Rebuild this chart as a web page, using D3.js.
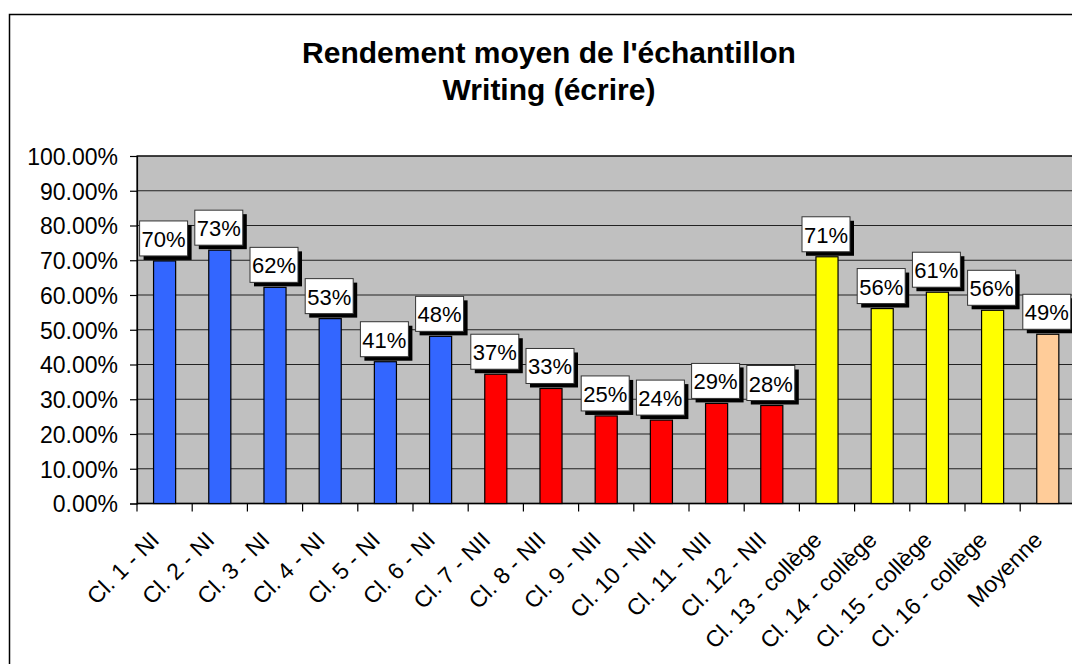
<!doctype html>
<head>
  <meta charset="utf-8">
  <script src="https://cdn.jsdelivr.net/npm/d3@7"></script>
</head>

<style type="text/css">
  body { margin: 0; background: #fff; }
  text { font-family: Arial, 'Liberation Sans', Helvetica, sans-serif; fill: #000; }
</style>

<body>
<svg width="1072" height="664"></svg>
<script>
// data
var categories = ["Cl. 1 - NI", "Cl. 2 - NI", "Cl. 3 - NI", "Cl. 4 - NI", "Cl. 5 - NI", "Cl. 6 - NI",
  "Cl. 7 - NII", "Cl. 8 - NII", "Cl. 9 - NII", "Cl. 10 - NII", "Cl. 11 - NII", "Cl. 12 - NII",
  "Cl. 13 - collège", "Cl. 14 - collège", "Cl. 15 - collège", "Cl. 16 - collège", "Moyenne"];
var values = [0.698, 0.729, 0.622, 0.532, 0.408, 0.481, 0.372, 0.331, 0.252, 0.240, 0.288, 0.282,
  0.710, 0.561, 0.608, 0.556, 0.487];
var groups = ["NI", "NI", "NI", "NI", "NI", "NI", "NII", "NII", "NII", "NII", "NII", "NII",
  "col", "col", "col", "col", "avg"];
var yTicks = [0, 0.1, 0.2, 0.3, 0.4, 0.5, 0.6, 0.7, 0.8, 0.9, 1.0];
var titleLines = ["Rendement moyen de l'échantillon", "Writing (écrire)"];

var colors = { NI: "#3366FF", NII: "#FF0000", col: "#FFFF00", avg: "#FFCC99" };

var svg = d3.select("svg");

// outer chart border (runs off the right and bottom)
svg.append("rect")
  .attr("x", 9.5).attr("y", 14.5).attr("width", 1100).attr("height", 700)
  .style("fill", "#fff").style("stroke", "#000").style("stroke-width", 1.5);

// title
svg.append("g").selectAll("text")
  .data(titleLines)
  .join("text")
  .attr("x", 549).attr("y", function(d, i) { return 63 + i * 37; })
  .attr("text-anchor", "middle")
  .style("font-weight", "bold").style("font-size", "30px")
  .text(function(d) { return d; });

// plot area
var plotLeft = 137, plotTop = 156, plotBottom = 503.5;
var band = 55.2;
var plotRight = plotLeft + band * categories.length;
var x = d3.scaleBand().domain(categories).range([plotLeft, plotRight]).paddingInner(0.6).paddingOuter(0.3);
var y = d3.scaleLinear().domain([0, 1]).range([plotBottom, plotTop]);

svg.append("rect")
  .attr("x", plotLeft).attr("y", plotTop).attr("width", plotRight - plotLeft).attr("height", plotBottom - plotTop)
  .style("fill", "#C0C0C0").style("stroke", "#000").style("stroke-width", 1.2);

// grid
svg.append("g").selectAll("line")
  .data(yTicks)
  .join("line")
  .attr("x1", plotLeft).attr("x2", plotRight)
  .attr("y1", function(d) { return y(d); }).attr("y2", function(d) { return y(d); })
  .style("stroke", "#222").style("stroke-width", 1.2);

// y axis
var yAxis = d3.axisLeft(y).tickValues(yTicks).tickSize(7).tickPadding(12)
  .tickFormat(function(d) { return d3.format(".2f")(d * 100) + "%"; });
var gy = svg.append("g").attr("transform", "translate(" + plotLeft + ",0)").call(yAxis);
gy.selectAll("text").style("font-size", "23px").attr("dy", "0.36em");
gy.selectAll("line, path").style("stroke", "#000").style("stroke-width", 1.2);

// x axis ticks at category boundaries
var bounds = d3.range(categories.length + 1).map(function(i) { return plotLeft + i * band; });
svg.append("g").selectAll("line")
  .data(bounds)
  .join("line")
  .attr("x1", function(d) { return d; }).attr("x2", function(d) { return d; })
  .attr("y1", plotBottom).attr("y2", plotBottom + 8)
  .style("stroke", "#000").style("stroke-width", 1.2);
svg.append("line")
  .attr("x1", plotLeft).attr("x2", plotRight)
  .attr("y1", plotBottom).attr("y2", plotBottom)
  .style("stroke", "#000").style("stroke-width", 1.5);

// x labels
svg.append("g").selectAll("text")
  .data(categories)
  .join("text")
  .attr("text-anchor", "end")
  .attr("transform", function(d) {
    return "translate(" + (x(d) + x.bandwidth() / 2 - 4) + "," + (plotBottom + 38) + ") rotate(-45)";
  })
  .style("font-size", "23px")
  .text(function(d) { return d; });

// bars
svg.append("g").selectAll("rect")
  .data(values)
  .join("rect")
  .attr("x", function(d, i) { return x(categories[i]); })
  .attr("width", x.bandwidth())
  .attr("y", function(d) { return y(d); })
  .attr("height", function(d) { return plotBottom - y(d); })
  .style("fill", function(d, i) { return colors[groups[i]]; })
  .style("stroke", "#000").style("stroke-width", 1.2);

// value labels with drop shadow
var bw = 48, bh = 35;
var lab = svg.append("g").selectAll("g")
  .data(values)
  .join("g")
  .attr("transform", function(d, i) {
    var cx = x(categories[i]) + x.bandwidth() / 2 - 1;
    return "translate(" + (cx - bw / 2) + "," + (y(d) - 5 - bh) + ")";
  });
lab.append("rect")
  .attr("x", 4).attr("y", 4).attr("width", bw).attr("height", bh)
  .style("fill", "#000");
lab.append("rect")
  .attr("width", bw).attr("height", bh)
  .style("fill", "#fff").style("stroke", "#333").style("stroke-width", 1);
lab.append("text")
  .attr("x", bw / 2).attr("y", 26)
  .attr("text-anchor", "middle")
  .style("font-size", "22px")
  .text(function(d) { return Math.round(d * 100) + "%"; });
</script>
</body>
